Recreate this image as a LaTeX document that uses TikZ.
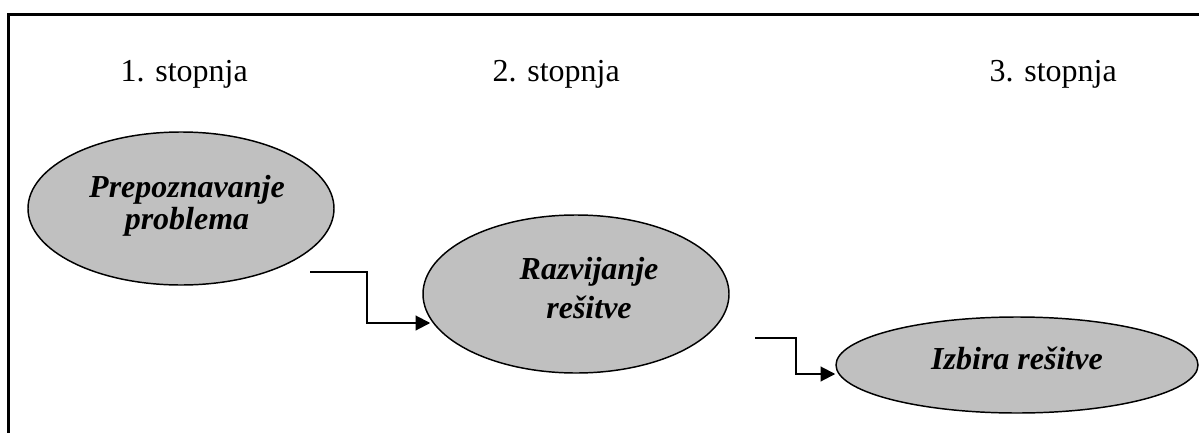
\documentclass[tikz,border=0pt]{standalone}
\usepackage{fontspec}
\setmainfont{Liberation Serif}
\usetikzlibrary{shapes.geometric,arrows.meta}
\definecolor{stagegray}{RGB}{192,192,192}
\begin{document}
\begin{tikzpicture}[x=0.75pt,y=-0.75pt,
  stage/.style={ellipse, draw=black, line width=1.1pt, fill=stagegray, inner sep=0pt},
  stagetext/.style={anchor=base, font=\fontsize{24}{26}\selectfont\bfseries\itshape},
  steplabel/.style={anchor=base west, font=\fontsize{24}{26}\selectfont},
  conn/.style={line width=1.5pt, -{Triangle[length=11pt,width=11pt]}},
  frameline/.style={line width=2.25pt, line join=miter}]
\useasboundingbox (0,0) rectangle (1199,432);

% open frame: left and top edges only
\draw[frameline] (8.5,445) -- (8.5,14) -- (1210,14);

% stage headings
\node[steplabel] (h1) at (116,81) {1. stopnja};
\node[steplabel] (h2) at (488,81) {2. stopnja};
\node[steplabel] (h3) at (985,81) {3. stopnja};

% the three stages
\node[stage, minimum width=229.5pt, minimum height=114.75pt] (e1) at (181,208.5) {};
\node[stage, minimum width=229.5pt, minimum height=118.5pt] (e2) at (576,294) {};
\node[stage, minimum width=271.5pt, minimum height=72pt] (e3) at (1017,365) {};

\node[stagetext] (t1a) at (187,197) {Prepoznavanje};
\node[stagetext] (t1b) at (187,229) {problema};
\node[stagetext] (t2a) at (589,279) {Razvijanje};
\node[stagetext] (t2b) at (589,318) {rešitve};
\node[stagetext] (t3) at (1017,369) {Izbira rešitve};

% stepped connectors
\coordinate (s1) at (310,272);
\coordinate (s2) at (755,338);
\draw[conn] (s1) -- ++(57,0) |- ([xshift=6pt,yshift=-21.75pt]e2.west);
\draw[conn] (s2) -- ++(41,0) |- ([yshift=-6.75pt]e3.west);
\end{tikzpicture}
\end{document}
